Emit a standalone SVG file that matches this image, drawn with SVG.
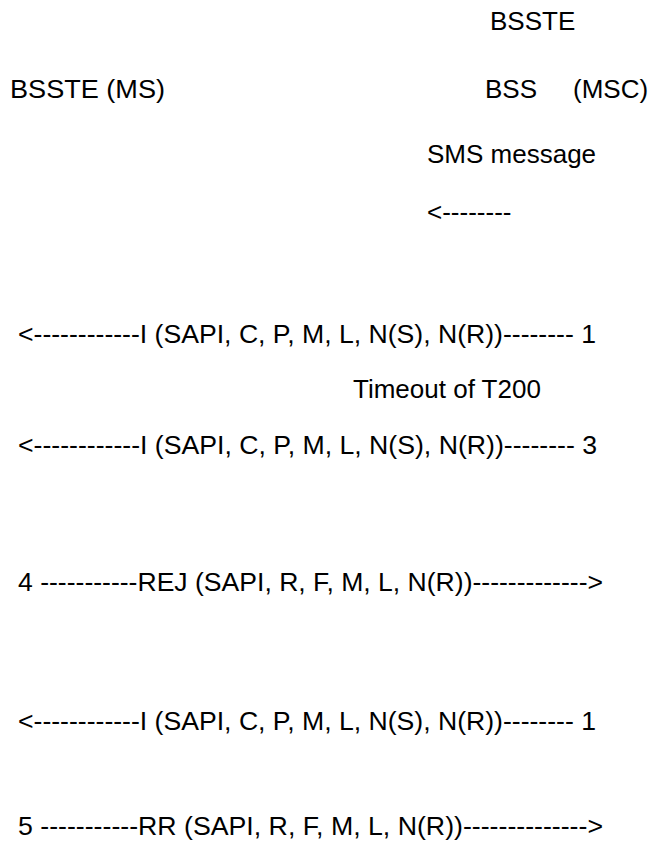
<svg xmlns="http://www.w3.org/2000/svg" width="653" height="846" viewBox="0 0 653 846">
<style>
text{font-family:"Liberation Sans",Arial,sans-serif;font-size:26px;fill:#000}
</style>
<rect width="653" height="846" fill="#fff"/>
<g id="header">
<text x="490" y="30">BSSTE</text>
<text x="10" y="98" textLength="155" lengthAdjust="spacingAndGlyphs">BSSTE (MS)</text>
<text y="98"><tspan x="485">BSS</tspan><tspan x="573">(MSC)</tspan></text>
</g>
<g id="connectors">
<text x="427" y="163">SMS message</text>
<text x="427" y="221">&lt;--------</text>
<text x="18" y="343" textLength="578" lengthAdjust="spacingAndGlyphs">&lt;------------I (SAPI, C, P, M, L, N(S), N(R))-------- 1</text>
<text x="353" y="398">Timeout of T200</text>
<text x="18" y="454" textLength="579" lengthAdjust="spacingAndGlyphs">&lt;------------I (SAPI, C, P, M, L, N(S), N(R))-------- 3</text>
<text x="18" y="591" textLength="585" lengthAdjust="spacingAndGlyphs">4 -----------REJ (SAPI, R, F, M, L, N(R))-------------&gt;</text>
<text x="18" y="730" textLength="578" lengthAdjust="spacingAndGlyphs">&lt;------------I (SAPI, C, P, M, L, N(S), N(R))-------- 1</text>
<text x="18" y="835" textLength="585" lengthAdjust="spacingAndGlyphs">5 -----------RR (SAPI, R, F, M, L, N(R))--------------&gt;</text>
</g>
</svg>
